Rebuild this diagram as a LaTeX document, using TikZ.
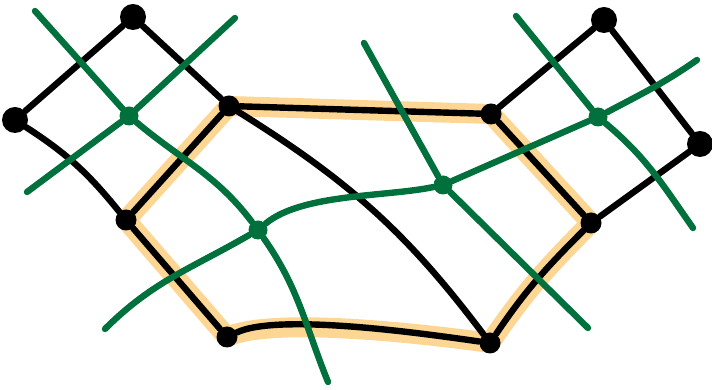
\documentclass[tikz,border=0pt]{standalone}
\usetikzlibrary{backgrounds}
\definecolor{flipgreen}{RGB}{0,112,60}
\definecolor{hexorange}{RGB}{253,214,148}
\begin{document}
\begin{tikzpicture}[x=0.5pt, y=0.5pt,
  vtx/.style={circle, fill=black, inner sep=0pt, minimum size=10.5pt},
  bigvtx/.style={vtx, minimum size=13pt},
  gvtx/.style={circle, fill=flipgreen, inner sep=0pt, minimum size=9.5pt},
  edge/.style={line width=3.2pt, line cap=round, line join=round},
  gline/.style={flipgreen, line width=3.2pt, line cap=round},
  hilite/.style={hexorange, line width=10pt, line cap=round, line join=round}]
  \useasboundingbox (0,0) rectangle (712,390);
  % black graph
  \node[bigvtx] (t1) at (133,373) {};
  \node[bigvtx] (l1) at (15,270) {};
  \node[vtx] (a) at (229,284) {};
  \node[vtx] (b) at (126,170) {};
  \node[vtx] (c) at (227,53) {};
  \node[vtx] (d) at (490,47) {};
  \node[vtx] (e) at (591,167) {};
  \node[vtx] (f) at (491,276) {};
  \node[bigvtx] (t2) at (604,370) {};
  \node[bigvtx] (r1) at (700,246) {};
  % highlighted hexagon
  \begin{scope}[on background layer]
    \draw[hilite] (a.center) -- (f.center) -- (e.center)
      to[out=-135,in=56] (d.center) to[out=172,in=25,looseness=0.5] (c.center)
      -- (b.center) -- cycle;
  \end{scope}
  \draw[edge] (t1) -- (l1);
  \draw[edge] (t1) -- (a);
  \draw[edge] (l1) to[out=-33,in=129] (b);
  \draw[edge] (a) -- (b);
  \draw[edge] (b) -- (c);
  \draw[edge] (c) to[out=25,in=172,looseness=0.5] (d);
  \draw[edge] (d) to[out=56,in=-135] (e);
  \draw[edge] (e) -- (f);
  \draw[edge] (f) -- (a);
  \draw[edge] (a) to[out=-32,in=127] (d);
  \draw[edge] (f) -- (t2);
  \draw[edge] (t2) -- (r1);
  \draw[edge] (r1) -- (e);
  % green curves
  \node[gvtx] (g1) at (129,274) {};
  \node[gvtx] (g2) at (258,160) {};
  \node[gvtx] (g3) at (443,205) {};
  \node[gvtx] (g4) at (598,273) {};
  \coordinate (ga1) at (35,379);
  \coordinate (ga2) at (328,8);
  \coordinate (gb1) at (235,372);
  \coordinate (gb2) at (27,198);
  \coordinate (gc1) at (105,61);
  \coordinate (gc2) at (697,330);
  \coordinate (gd1) at (364,347);
  \coordinate (gd2) at (588,62);
  \coordinate (ge1) at (516,374);
  \coordinate (ge2) at (693,162);
  \draw[gline] (ga1) -- (g1) to[out=-40,in=127] (g2) to[out=-55,in=112] (ga2);
  \draw[gline] (gb1) -- (g1) -- (gb2);
  \draw[gline] (gc1) to[out=45,in=-150] (g2) to[out=40,in=-168,looseness=0.7] (g3)
    -- (g4) to[out=28,in=-145] (gc2);
  \draw[gline] (gd1) -- (g3) -- (gd2);
  \draw[gline] (ge1) -- (g4) to[out=-40,in=125] (ge2);
\end{tikzpicture}
\end{document}
